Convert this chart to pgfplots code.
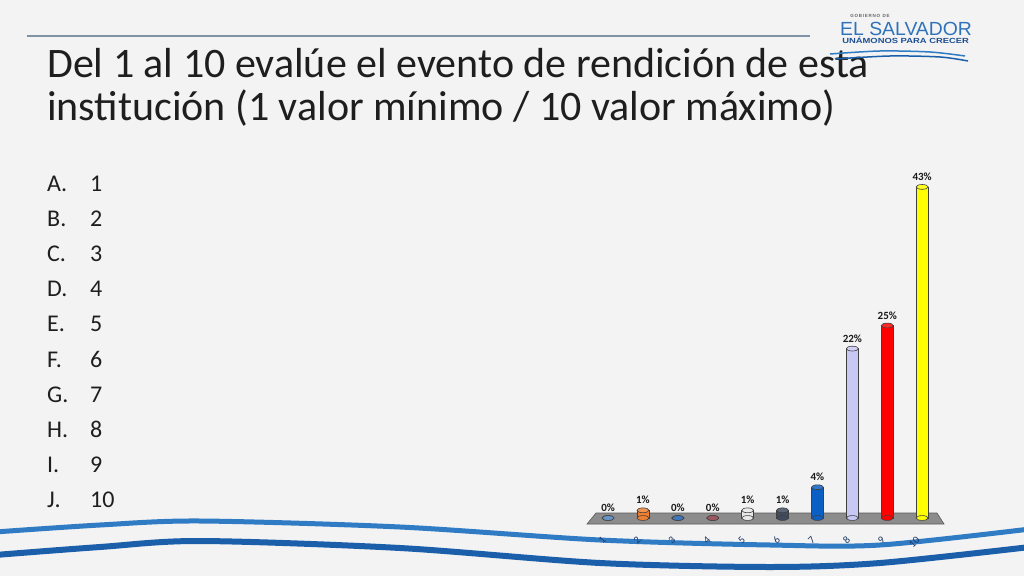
\documentclass[border=0pt]{standalone}
\usepackage{pgfplots}
\pgfplotsset{compat=1.18}
\usepackage{fontspec}
\setmainfont{Carlito}
\newfontfamily\logofont{Liberation Sans}
\definecolor{bgcol}{HTML}{F3F3F3}
\definecolor{txt}{HTML}{1E1E1E}
\definecolor{rule}{HTML}{7F93A6}
\definecolor{swA}{HTML}{2F7BC4}
\definecolor{swB}{HTML}{1B5EAA}
\definecolor{logoblue}{HTML}{2E73BA}
\definecolor{logodark}{HTML}{1D4E94}
\definecolor{ticknavy}{HTML}{1F3864}
\definecolor{c1}{HTML}{4F81BD}
\definecolor{c2}{HTML}{F07F2E}
\definecolor{c3}{HTML}{1F5FAF}
\definecolor{c4}{HTML}{8E3B46}
\definecolor{c5}{HTML}{E8E8E8}
\definecolor{c6}{HTML}{3F4B5E}
\definecolor{c7}{HTML}{0A5FC4}
\definecolor{c8}{HTML}{C8C8F5}
\definecolor{c9}{HTML}{FF0000}
\definecolor{c10}{HTML}{FFFF00}
\newcommand{\cyl}[3]{%
  \addplot[only marks, mark=*, mark size=6pt, mark options={yscale=0.4, fill=#1, draw=black!75, line width=0.6pt}] coordinates {(#2,0)};
  \addplot[ybar, bar width=12pt, bar shift=0pt, fill=#1, draw=black!75, line width=0.6pt] coordinates {(#2,#3)};
  \addplot[only marks, mark=*, mark size=6pt, mark options={yscale=0.4, fill=#1!85!white, draw=black!75, line width=0.6pt},
    nodes near coords={\textbf{\pgfmathprintnumber[assume math mode=true]{\pgfplotspointmeta}\%}},
    nodes near coords style={font=\fontsize{11}{11}\selectfont, text=black!90, anchor=south, inner sep=1pt, yshift=5pt}] coordinates {(#2,#3)};
}
\begin{document}
\begin{tikzpicture}[x=1pt,y=1pt]
\fill[bgcol] (0,0) rectangle (1024,576);
% top rule
\draw[rule, line width=2.5pt] (27,540) -- (810,540);
% title
\node[anchor=base west, inner sep=0pt, text=txt, font=\fontsize{42}{42}\selectfont] at (47,498) {Del 1 al 10 evalúe el evento de rendición de esta};
\node[anchor=base west, inner sep=0pt, text=txt, font=\fontsize{42}{42}\selectfont] at (47,455) {institución (1 valor mínimo / 10 valor máximo)};
% list
\foreach \l/\n [count=\k from 0] in {A./1,B./2,C./3,D./4,E./5,F./6,G./7,H./8,I./9,J./10}{
  \node[anchor=base west, inner sep=0pt, text=txt, font=\fontsize{24}{24}\selectfont] at (47,384-35*\k) {\l};
  \node[anchor=base west, inner sep=0pt, text=txt, font=\fontsize{24}{24}\selectfont] at (90,384-35*\k) {\n};
}
% logo
\node[anchor=base, inner sep=0pt, text=black!60, font=\logofont\bfseries\fontsize{4.5}{4.5}\selectfont] at (870,558) {G\,O\,B\,I\,E\,R\,N\,O\ \ D\,E};
\node[anchor=base west, inner sep=0pt, text=logoblue, font=\logofont\fontsize{19}{19}\selectfont, xscale=1.02] at (840,540) {EL SALVADOR};
\node[anchor=base west, inner sep=0pt, text=logodark, font=\logofont\bfseries\fontsize{7.4}{7.4}\selectfont, xscale=1.27] at (842,532) {UNÁMONOS PARA CRECER};
\draw[swA, line width=1.5pt] plot[smooth] coordinates {(830,522) (880,525) (930,524) (965,520)};
\draw[swB, line width=1.5pt] plot[smooth] coordinates {(835,517) (890,520) (940,519) (968,515)};
% bottom swooshes
\draw[swA, line width=5pt] plot[smooth] coordinates {(-5,44) (100,51) (200,55) (400,49) (600,36) (770,31) (880,31) (1030,47)};
\draw[swB, line width=6pt] plot[smooth] coordinates {(-5,21) (100,29) (200,35) (400,28) (600,13) (770,9) (880,13) (1030,29)};
% floor
\filldraw[fill=black!45, draw=black!65, line width=0.6pt] (587,52) -- (596,63) -- (937,63) -- (944,52) -- cycle;
\begin{axis}[
  at={(590.6pt,58pt)}, anchor=south west,
  scale only axis, width=349pt, height=346.5pt,
  xmin=0.5, xmax=10.5, ymin=0, ymax=45,
  clip=false,
  axis y line=none, axis x line*=bottom,
  axis line style={draw=none},
  major tick length=0pt,
  xtick={1,2,3,4,5,6,7,8,9,10},
  xticklabels={1,2,3,4,5,6,7,8,9,10},
  xticklabel style={rotate=45, anchor=east, text=ticknavy, font=\fontsize{10.5}{10.5}\selectfont, xshift=-13.7pt, yshift=-11.5pt},
  ytick=\empty,
]
\cyl{c1}{1}{0}
\cyl{c2}{2}{1}
\cyl{c3}{3}{0}
\cyl{c4}{4}{0}
\cyl{c5}{5}{1}
\cyl{c6}{6}{1}
\cyl{c7}{7}{4}
\cyl{c8}{8}{22}
\cyl{c9}{9}{25}
\cyl{c10}{10}{43}
\end{axis}
\pgfresetboundingbox
\useasboundingbox (0,0) rectangle (1024,576);
\end{tikzpicture}
\end{document}
